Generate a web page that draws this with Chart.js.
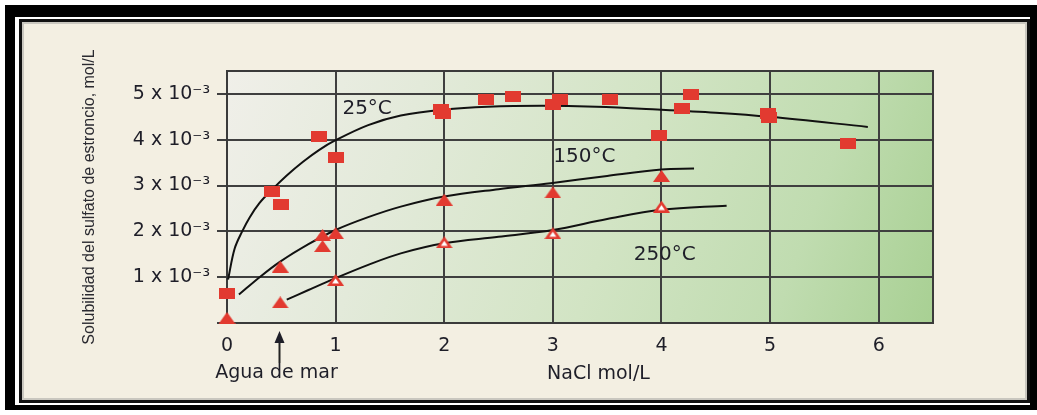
<!DOCTYPE html>
<html>
<head>
<meta charset="utf-8">
<script src="https://cdn.jsdelivr.net/npm/chart.js@4"></script>
<style>
html,body{margin:0;padding:0;background:#fff;}
#wrap{width:1037px;height:415px;position:relative;}
canvas{display:block;}
</style>
</head>
<body>
<div id="wrap"><canvas id="c" width="1037" height="415"></canvas></div>
<script>
// ---- Data (y in units of 10^-3 mol/L, x in NaCl mol/L) ----
const xTicks = [0, 1, 2, 3, 4, 5, 6];
const xTickLabels = ['0', '1', '2', '3', '4', '5', '6'];
const yTicks = [0, 1, 2, 3, 4, 5];
const yTickLabels = ['', '1 x 10⁻³', '2 x 10⁻³', '3 x 10⁻³', '4 x 10⁻³', '5 x 10⁻³'];

// 25°C measured points (squares)
const x25 = [0, 0.41, 0.50, 0.85, 1.00, 1.97, 1.99, 2.38, 2.63, 3.00, 3.07, 3.53, 3.98, 4.19, 4.27, 4.98, 4.99, 5.72];
const y25 = [0.65, 2.87, 2.58, 4.07, 3.61, 4.66, 4.58, 4.88, 4.95, 4.76, 4.88, 4.88, 4.10, 4.68, 4.99, 4.57, 4.48, 3.92];
// 150°C measured points (filled triangles)
const x150 = [0, 0.49, 0.88, 0.88, 1.00, 2.00, 3.00, 4.00];
const y150 = [0.11, 1.23, 1.92, 1.68, 1.96, 2.69, 2.85, 3.21];
// 250°C measured points (first filled, others hollow)
const x250 = [0.49, 1.00, 2.00, 3.00, 4.00];
const y250 = [0.45, 0.94, 1.76, 1.96, 2.54];

// Fitted curves
const c25x = [0.01, 0.07, 0.14, 0.21, 0.30, 0.41, 0.55, 0.70, 0.85, 1.00, 1.30, 1.60, 2.00, 2.40, 2.90, 3.40, 3.96, 4.50, 5.00, 5.90];
const c25y = [0.95, 1.62, 2.00, 2.31, 2.62, 2.90, 3.22, 3.52, 3.78, 3.99, 4.32, 4.53, 4.66, 4.72, 4.74, 4.72, 4.66, 4.59, 4.50, 4.28];
const c150x = [0.11, 0.30, 0.49, 0.75, 1.00, 1.30, 1.60, 2.00, 2.50, 2.98, 3.50, 4.00, 4.30];
const c150y = [0.62, 1.00, 1.34, 1.72, 2.03, 2.31, 2.54, 2.76, 2.92, 3.05, 3.21, 3.35, 3.37];
const c250x = [0.55, 0.75, 1.00, 1.30, 1.60, 2.00, 2.50, 3.00, 3.50, 4.00, 4.60];
const c250y = [0.51, 0.72, 0.98, 1.27, 1.52, 1.74, 1.88, 2.03, 2.27, 2.47, 2.56];

const seriesLabels = ['25°C', '150°C', '250°C'];
const seaWaterX = 0.48;

// ---- helpers ----
function pts(xs, ys) { return xs.map((x, i) => ({ x: x, y: ys[i] })); }
const RED = '#e23a30';
function makeRect() {
  const c = document.createElement('canvas'); c.width = 16; c.height = 11;
  const g = c.getContext('2d'); g.fillStyle = RED; g.fillRect(0, 0, 16, 11); return c;
}
function makeTri(hollow) {
  const c = document.createElement('canvas'); c.width = 17; c.height = 12;
  const g = c.getContext('2d');
  g.fillStyle = RED; g.beginPath(); g.moveTo(0, 12); g.lineTo(8.5, 0); g.lineTo(17, 12); g.closePath(); g.fill();
  if (hollow) {
    g.fillStyle = '#fff'; g.beginPath(); g.moveTo(5, 9.6); g.lineTo(8.5, 4.4); g.lineTo(12, 9.6); g.closePath(); g.fill();
  }
  return c;
}
const sq = makeRect(), triF = makeTri(false), triH = makeTri(true);

const framePlugin = {
  id: 'frame',
  beforeDraw(chart) {
    const ctx = chart.ctx, a = chart.chartArea;
    ctx.save();
    ctx.fillStyle = '#fff'; ctx.fillRect(0, 0, 1037, 415);
    ctx.fillStyle = '#000'; ctx.fillRect(5, 5, 1032, 405);
    ctx.fillStyle = '#fff'; ctx.fillRect(15, 17, 1015, 388);
    ctx.fillStyle = '#111'; ctx.fillRect(19, 19, 1011, 384);
    ctx.fillStyle = '#c9c7bf'; ctx.fillRect(22, 22, 1005, 378);
    ctx.fillStyle = '#f3efe2'; ctx.fillRect(24, 24, 1001, 374);
    const gr = ctx.createLinearGradient(a.left, a.top, a.right, a.bottom);
    gr.addColorStop(0, '#f0efe9');
    gr.addColorStop(0.25, '#e3eada');
    gr.addColorStop(0.55, '#d2e4c4');
    gr.addColorStop(0.8, '#c0dcb0');
    gr.addColorStop(1, '#a8d093');
    ctx.fillStyle = gr; ctx.fillRect(a.left, a.top, a.right - a.left, a.bottom - a.top);
    ctx.restore();
  },
  beforeDatasetsDraw(chart) {
    const ctx = chart.ctx, a = chart.chartArea;
    ctx.save();
    ctx.strokeStyle = '#3a3a3a'; ctx.lineWidth = 2;
    ctx.strokeRect(a.left, a.top, a.right - a.left, a.bottom - a.top);
    ctx.restore();
  },
  afterDraw(chart) {
    const ctx = chart.ctx, xs = chart.scales.x, ys = chart.scales.y;
    ctx.save();
    ctx.fillStyle = '#1e1e28';
    ctx.font = '20px "DejaVu Sans"';
    ctx.textAlign = 'center'; ctx.textBaseline = 'alphabetic';
    ctx.fillText(seriesLabels[0], xs.getPixelForValue(1.29), ys.getPixelForValue(4.56));
    ctx.fillText(seriesLabels[1], xs.getPixelForValue(3.29), ys.getPixelForValue(3.52));
    ctx.fillText(seriesLabels[2], xs.getPixelForValue(4.03), ys.getPixelForValue(1.38));
    // arrow for sea water
    const ax = Math.round(xs.getPixelForValue(seaWaterX)) + 0.5;
    ctx.strokeStyle = '#222'; ctx.lineWidth = 2;
    ctx.beginPath(); ctx.moveTo(ax, 363); ctx.lineTo(ax, 340); ctx.stroke();
    ctx.beginPath(); ctx.moveTo(ax, 331); ctx.lineTo(ax - 5, 343); ctx.lineTo(ax + 5, 343); ctx.closePath(); ctx.fill();
    ctx.font = '19px "DejaVu Sans"';
    ctx.fillStyle = '#1e1e28';
    ctx.textAlign = 'center';
    ctx.fillText('Agua de mar', ax - 3, 378);
    ctx.fillText('NaCl mol/L', xs.getPixelForValue(3.42), 379);
    ctx.restore();
  }
};

const curveStyle = { showLine: true, pointRadius: 0, borderColor: '#111', borderWidth: 2, tension: 0.35, fill: false, order: 1 };

new Chart(document.getElementById('c'), {
  type: 'scatter',
  data: {
    datasets: [
      { label: '25°C', data: pts(x25, y25), pointStyle: sq, pointRadius: 8, order: 0, clip: false },
      { label: '150°C', data: pts(x150, y150), pointStyle: triF, pointRadius: 8, order: 0, clip: false },
      { label: '250°C', data: pts(x250, y250), pointStyle: [triF, triH, triH, triH, triH], pointRadius: 8, order: 0, clip: false },
      Object.assign({ label: '25°C curve', data: pts(c25x, c25y) }, curveStyle),
      Object.assign({ label: '150°C curve', data: pts(c150x, c150y) }, curveStyle),
      Object.assign({ label: '250°C curve', data: pts(c250x, c250y) }, curveStyle)
    ]
  },
  options: {
    responsive: false,
    animation: false,
    events: [],
    layout: { padding: { top: 71, right: 104, bottom: 0, left: 0 } },
    plugins: { legend: { display: false }, tooltip: { enabled: false } },
    scales: {
      x: {
        type: 'linear', min: 0, max: 6.5,
        afterBuildTicks: s => { s.ticks = xTicks.map(v => ({ value: v })); },
        afterFit: s => { s.height = 92; },
        grid: { color: '#3f3f3f', lineWidth: 2, drawTicks: false },
        border: { display: false },
        ticks: { padding: 12, color: '#1e1e28', font: { family: 'DejaVu Sans', size: 19 }, maxRotation: 0,
                 callback: (v, i) => xTickLabels[i] }
      },
      y: {
        type: 'linear', min: 0, max: 5.5,
        afterBuildTicks: s => { s.ticks = yTicks.map(v => ({ value: v })); },
        afterFit: s => { s.width = 227; },
        grid: { color: '#3f3f3f', lineWidth: 2, drawTicks: true, tickLength: 10 },
        border: { display: false },
        ticks: { padding: 7, color: '#1e1e28', font: { family: 'DejaVu Sans', size: 19 },
                 callback: (v, i) => yTickLabels[i] },
        title: { display: true, text: 'Solubilidad del sulfato de estroncio, mol/L',
                 color: '#2a2a30', font: { family: 'Liberation Sans', size: 16 }, padding: { top: 80, bottom: 0 } }
      }
    }
  },
  plugins: [framePlugin]
});
</script>
</body>
</html>
